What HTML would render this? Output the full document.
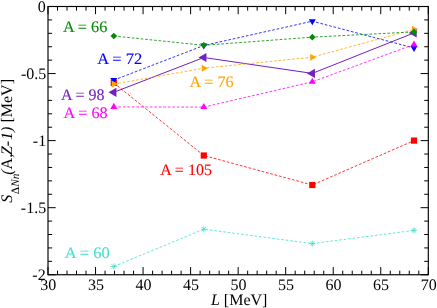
<!DOCTYPE html>
<html><head><meta charset="utf-8"><title>plot</title>
<style>html,body{margin:0;padding:0;background:#fff;}svg{display:block;will-change:transform;}text{font-family:"Liberation Serif",serif;text-rendering:geometricPrecision;}</style></head>
<body>
<svg width="437" height="308" viewBox="0 0 437 308">
<rect x="0" y="0" width="437" height="308" fill="#ffffff"/>
<polyline points="113.80,82.90 203.80,155.50 312.30,185.00 414.00,140.60" fill="none" stroke="#ff0000" stroke-width="0.8" stroke-dasharray="2.7 1.8"/>
<rect x="110.70" y="79.80" width="6.20" height="6.20" fill="#ff0000"/>
<rect x="200.70" y="152.40" width="6.20" height="6.20" fill="#ff0000"/>
<rect x="309.20" y="181.90" width="6.20" height="6.20" fill="#ff0000"/>
<rect x="410.90" y="137.50" width="6.20" height="6.20" fill="#ff0000"/>
<polyline points="113.80,92.30 203.80,57.50 312.30,73.40 414.00,32.90" fill="none" stroke="#7221bc" stroke-width="1.0"/>
<polygon points="108.49,92.30 116.46,87.70 116.46,96.90" fill="#7221bc"/>
<polygon points="198.49,57.50 206.46,52.90 206.46,62.10" fill="#7221bc"/>
<polygon points="306.99,73.40 314.96,68.80 314.96,78.00" fill="#7221bc"/>
<polygon points="408.69,32.90 416.66,28.30 416.66,37.50" fill="#7221bc"/>
<polyline points="113.80,80.10 203.80,45.50 312.30,21.20 414.00,48.00" fill="none" stroke="#0000ff" stroke-width="0.8" stroke-dasharray="2.7 1.8"/>
<polygon points="113.80,84.14 110.30,78.08 117.30,78.08" fill="#0000ff"/>
<polygon points="203.80,49.54 200.30,43.48 207.30,43.48" fill="#0000ff"/>
<polygon points="312.30,25.24 308.80,19.18 315.80,19.18" fill="#0000ff"/>
<polygon points="414.00,52.04 410.50,45.98 417.50,45.98" fill="#0000ff"/>
<polyline points="113.80,84.10 203.80,68.20 312.30,57.20 414.00,29.40" fill="none" stroke="#ffa500" stroke-width="0.8" stroke-dasharray="2.7 1.8"/>
<polygon points="117.90,84.10 111.75,80.55 111.75,87.65" fill="#ffa500"/>
<polygon points="207.90,68.20 201.75,64.65 201.75,71.75" fill="#ffa500"/>
<polygon points="316.40,57.20 310.25,53.65 310.25,60.75" fill="#ffa500"/>
<polygon points="418.10,29.40 411.95,25.85 411.95,32.95" fill="#ffa500"/>
<polyline points="113.80,106.90 203.80,107.10 312.30,81.80 414.00,44.50" fill="none" stroke="#ff00ff" stroke-width="0.8" stroke-dasharray="2.7 1.8"/>
<polygon points="113.80,102.86 110.30,108.92 117.30,108.92" fill="#ff00ff"/>
<polygon points="203.80,103.06 200.30,109.12 207.30,109.12" fill="#ff00ff"/>
<polygon points="312.30,77.76 308.80,83.82 315.80,83.82" fill="#ff00ff"/>
<polygon points="414.00,40.46 410.50,46.52 417.50,46.52" fill="#ff00ff"/>
<polyline points="113.80,36.00 203.80,45.30 312.30,37.15 414.00,31.90" fill="none" stroke="#008b00" stroke-width="0.8" stroke-dasharray="2.7 1.8"/>
<polygon points="113.80,32.70 117.10,36.00 113.80,39.30 110.50,36.00" fill="#008b00"/>
<polygon points="203.80,42.00 207.10,45.30 203.80,48.60 200.50,45.30" fill="#008b00"/>
<polygon points="312.30,33.85 315.60,37.15 312.30,40.45 309.00,37.15" fill="#008b00"/>
<polygon points="414.00,28.60 417.30,31.90 414.00,35.20 410.70,31.90" fill="#008b00"/>
<polyline points="113.80,266.50 203.80,229.20 312.30,243.60 414.00,230.40" fill="none" stroke="#40e0d0" stroke-width="0.8" stroke-dasharray="2.7 1.8"/>
<path d="M110.70 266.50H116.90M113.80 263.40V269.60M111.61 264.31L115.99 268.69M111.61 268.69L115.99 264.31" stroke="#40e0d0" stroke-width="0.8" fill="none"/>
<path d="M200.70 229.20H206.90M203.80 226.10V232.30M201.61 227.01L205.99 231.39M201.61 231.39L205.99 227.01" stroke="#40e0d0" stroke-width="0.8" fill="none"/>
<path d="M309.20 243.60H315.40M312.30 240.50V246.70M310.11 241.41L314.49 245.79M310.11 245.79L314.49 241.41" stroke="#40e0d0" stroke-width="0.8" fill="none"/>
<path d="M410.90 230.40H417.10M414.00 227.30V233.50M411.81 228.21L416.19 232.59M411.81 232.59L416.19 228.21" stroke="#40e0d0" stroke-width="0.8" fill="none"/>
<path d="M48.00 274.75v-7.7M48.00 6.5v7.7M57.51 274.75v-4.1M57.51 6.5v4.1M67.02 274.75v-4.1M67.02 6.5v4.1M76.52 274.75v-4.1M76.52 6.5v4.1M86.03 274.75v-4.1M86.03 6.5v4.1M95.54 274.75v-7.7M95.54 6.5v7.7M105.05 274.75v-4.1M105.05 6.5v4.1M114.55 274.75v-4.1M114.55 6.5v4.1M124.06 274.75v-4.1M124.06 6.5v4.1M133.57 274.75v-4.1M133.57 6.5v4.1M143.07 274.75v-7.7M143.07 6.5v7.7M152.58 274.75v-4.1M152.58 6.5v4.1M162.09 274.75v-4.1M162.09 6.5v4.1M171.60 274.75v-4.1M171.60 6.5v4.1M181.10 274.75v-4.1M181.10 6.5v4.1M190.61 274.75v-7.7M190.61 6.5v7.7M200.12 274.75v-4.1M200.12 6.5v4.1M209.63 274.75v-4.1M209.63 6.5v4.1M219.14 274.75v-4.1M219.14 6.5v4.1M228.64 274.75v-4.1M228.64 6.5v4.1M238.15 274.75v-7.7M238.15 6.5v7.7M247.66 274.75v-4.1M247.66 6.5v4.1M257.17 274.75v-4.1M257.17 6.5v4.1M266.67 274.75v-4.1M266.67 6.5v4.1M276.18 274.75v-4.1M276.18 6.5v4.1M285.69 274.75v-7.7M285.69 6.5v7.7M295.20 274.75v-4.1M295.20 6.5v4.1M304.70 274.75v-4.1M304.70 6.5v4.1M314.21 274.75v-4.1M314.21 6.5v4.1M323.72 274.75v-4.1M323.72 6.5v4.1M333.23 274.75v-7.7M333.23 6.5v7.7M342.73 274.75v-4.1M342.73 6.5v4.1M352.24 274.75v-4.1M352.24 6.5v4.1M361.75 274.75v-4.1M361.75 6.5v4.1M371.25 274.75v-4.1M371.25 6.5v4.1M380.76 274.75v-7.7M380.76 6.5v7.7M390.27 274.75v-4.1M390.27 6.5v4.1M399.78 274.75v-4.1M399.78 6.5v4.1M409.28 274.75v-4.1M409.28 6.5v4.1M418.79 274.75v-4.1M418.79 6.5v4.1M428.30 274.75v-7.7M428.30 6.5v7.7M48.0 6.50h7.7M428.3 6.50h-7.7M48.0 19.91h4.1M428.3 19.91h-4.1M48.0 33.33h4.1M428.3 33.33h-4.1M48.0 46.74h4.1M428.3 46.74h-4.1M48.0 60.15h4.1M428.3 60.15h-4.1M48.0 73.56h7.7M428.3 73.56h-7.7M48.0 86.98h4.1M428.3 86.98h-4.1M48.0 100.39h4.1M428.3 100.39h-4.1M48.0 113.80h4.1M428.3 113.80h-4.1M48.0 127.21h4.1M428.3 127.21h-4.1M48.0 140.62h7.7M428.3 140.62h-7.7M48.0 154.04h4.1M428.3 154.04h-4.1M48.0 167.45h4.1M428.3 167.45h-4.1M48.0 180.86h4.1M428.3 180.86h-4.1M48.0 194.28h4.1M428.3 194.28h-4.1M48.0 207.69h7.7M428.3 207.69h-7.7M48.0 221.10h4.1M428.3 221.10h-4.1M48.0 234.51h4.1M428.3 234.51h-4.1M48.0 247.93h4.1M428.3 247.93h-4.1M48.0 261.34h4.1M428.3 261.34h-4.1M48.0 274.75h7.7M428.3 274.75h-7.7" stroke="#000000" stroke-width="1.0" fill="none"/>
<rect x="48.0" y="6.5" width="380.3" height="268.25" fill="none" stroke="#000000" stroke-width="1.15"/>
<g transform="rotate(0.02 218 154)">
<text x="48.40" y="290.3" font-size="16" text-anchor="middle" fill="#000">30</text>
<text x="95.94" y="290.3" font-size="16" text-anchor="middle" fill="#000">35</text>
<text x="143.47" y="290.3" font-size="16" text-anchor="middle" fill="#000">40</text>
<text x="191.01" y="290.3" font-size="16" text-anchor="middle" fill="#000">45</text>
<text x="238.55" y="290.3" font-size="16" text-anchor="middle" fill="#000">50</text>
<text x="286.09" y="290.3" font-size="16" text-anchor="middle" fill="#000">55</text>
<text x="333.62" y="290.3" font-size="16" text-anchor="middle" fill="#000">60</text>
<text x="381.16" y="290.3" font-size="16" text-anchor="middle" fill="#000">65</text>
<text x="428.70" y="290.3" font-size="16" text-anchor="middle" fill="#000">70</text>
<text x="45.6" y="12.00" font-size="16" text-anchor="end" fill="#000">0</text>
<text x="46.2" y="79.06" font-size="16" text-anchor="end" fill="#000">-0.5</text>
<text x="46.2" y="146.12" font-size="16" text-anchor="end" fill="#000">-1</text>
<text x="46.2" y="213.19" font-size="16" text-anchor="end" fill="#000">-1.5</text>
<text x="45.7" y="280.25" font-size="16" text-anchor="end" fill="#000">-2</text>
<text x="211.0" y="304.7" font-size="16" fill="#000"><tspan font-style="italic">L</tspan> [MeV]</text>
<text transform="translate(12.0,202.8) rotate(-90)" font-size="16" fill="#000"><tspan font-style="italic">S</tspan><tspan font-size="11.4" dy="6.7" dx="0.6">Δ<tspan font-style="italic">Nn</tspan></tspan><tspan dy="-6.7" dx="-1.2" font-style="italic">(</tspan>A,<tspan font-style="italic" dx="-1.3">Z-</tspan><tspan font-style="italic" dx="1.0">1)</tspan> [MeV]</text>
<text transform="translate(62.9,31.6) scale(1.015,1)" font-size="16" fill="#008b00" stroke="#008b00" stroke-width="0.12">A = 66</text>
<text transform="translate(97.2,63.9) scale(1.03,1)" font-size="16" fill="#0000ff" stroke="#0000ff" stroke-width="0.12">A = 72</text>
<text transform="translate(189.4,87.0) scale(1.012,1)" font-size="16" fill="#ffa500" stroke="#ffa500" stroke-width="0.12">A = 76</text>
<text transform="translate(60.9,100.15) scale(1.0,1)" font-size="16" fill="#7221bc" stroke="#7221bc" stroke-width="0.12">A = 98</text>
<text transform="translate(63.4,118.3) scale(1.012,1)" font-size="16" fill="#ff00ff" stroke="#ff00ff" stroke-width="0.12">A = 68</text>
<text transform="translate(160.2,174.8) scale(1.0,1)" font-size="16" fill="#ff0000" stroke="#ff0000" stroke-width="0.12">A = 105</text>
<text transform="translate(64.7,258.4) scale(1.03,1)" font-size="16" fill="#40e0d0" stroke="#40e0d0" stroke-width="0.12">A = 60</text>
</g>
</svg>
</body></html>
